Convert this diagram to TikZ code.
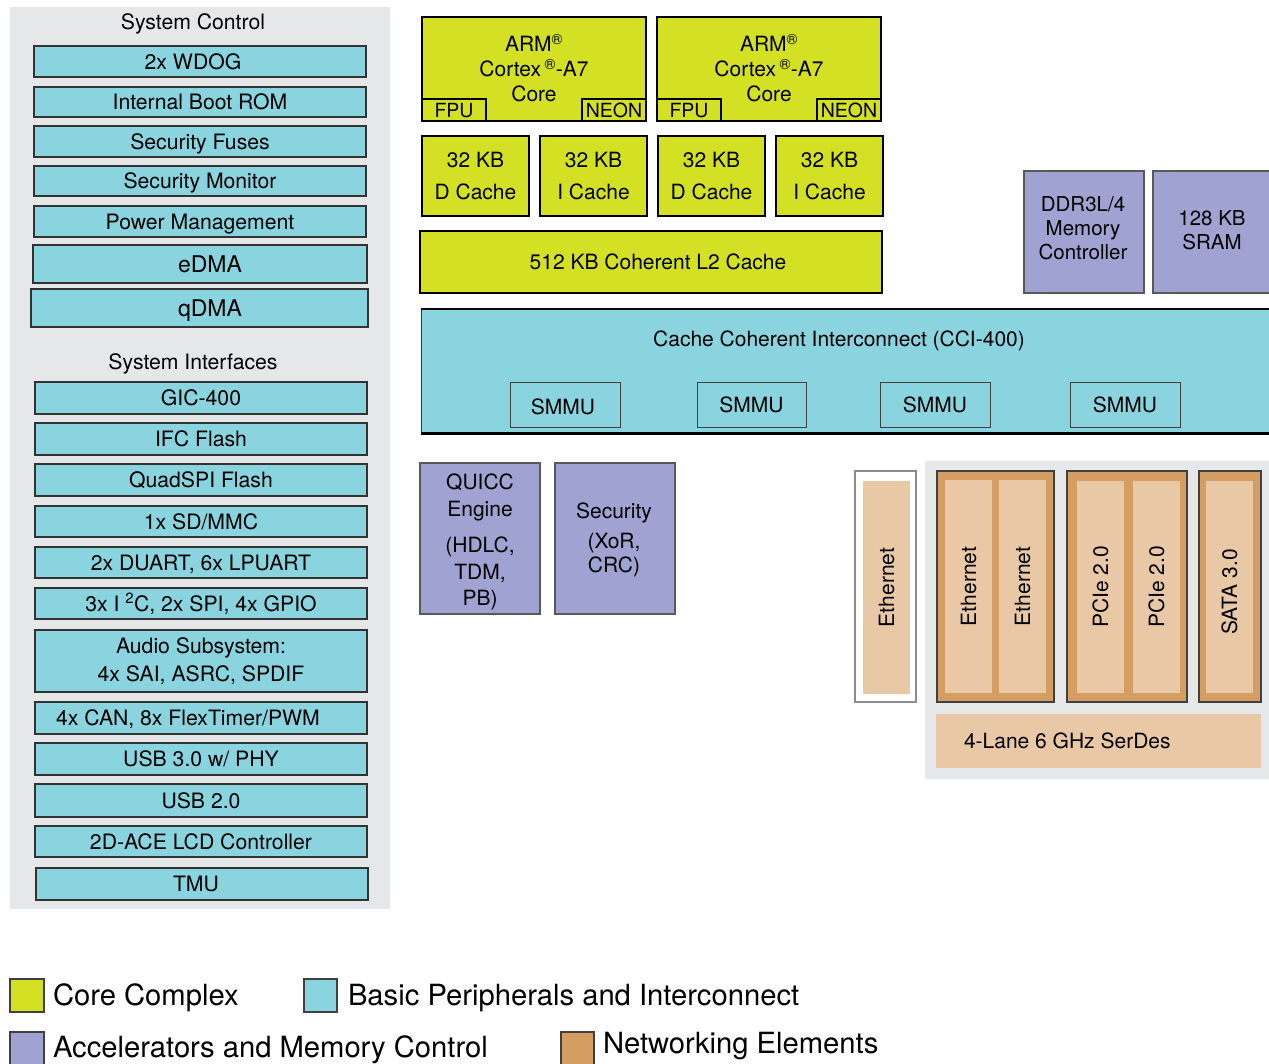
\documentclass[tikz,border=0pt]{standalone}
\usepackage{fontspec}
\setmainfont{TeX Gyre Heros}
\definecolor{cyc}{RGB}{137,212,223}
\definecolor{ylc}{RGB}{212,224,36}
\definecolor{puc}{RGB}{160,162,210}
\definecolor{orc}{RGB}{212,158,98}
\definecolor{tnc}{RGB}{232,200,165}
\definecolor{bgc}{RGB}{230,231,232}
\newcommand{\fsz}[2]{\fontsize{#1}{#2}\selectfont}
\newcommand{\blk}[8][]{\node[#2, minimum width={(#5-#3)*1pt}, minimum height={(#6-#4)*1pt}, #1] (#7) at ({(#3+#5)/2},{(#4+#6)/2}) {#8};}
\begin{document}
\begin{tikzpicture}[x=1pt,y=-1pt,
 every node/.style={inner sep=0pt,outer sep=0pt,align=center,font=\fsz{21}{25}},
 bgb/.style={fill=bgc,draw=none},
 cyb/.style={fill=cyc,draw=black!80,line width=1.3pt},
 ylb/.style={fill=ylc,draw=black,line width=2pt},
 pub/.style={fill=puc,draw=black!65,line width=1.2pt},
 orb/.style={fill=orc,draw=black!75,line width=1.2pt},
 tnb/.style={fill=tnc,draw=none},
 whb/.style={fill=white,draw=black!45,line width=1.2pt},
 smb/.style={fill=cyc,draw=black!75,line width=1pt},
 swb/.style={draw=black!75,line width=1.5pt},
 capx/.style={text height=15pt,text depth=0pt},
 lft/.style={font=\fsz{21.2}{25},text height=15.2pt,text depth=0pt},
 bigx/.style={font=\fsz{23}{27},text height=16.5pt,text depth=0pt},
 rotx/.style={rotate=90,text height=15pt,text depth=0pt},
 legx/.style={anchor=west,font=\fsz{29.2}{33},text height=21pt,text depth=0pt}]
\useasboundingbox (0,0) rectangle (1269,1063);

% ---------- left panel ----------
\blk{bgb}{10}{7}{390}{909}{lpanel}{}
\node[lft] (sctitle) at (193,22) {System Control};
\blk[lft]{cyb}{34}{46}{366}{77}{wdog}{}
\node[lft] (wdogt) at (193,61.5) {2x WDOG};
\blk[lft]{cyb}{34}{87}{366}{117}{boot}{Internal Boot ROM}
\blk[lft]{cyb}{34}{126}{366}{157}{fuse}{Security Fuses}
\blk[lft]{cyb}{34}{166}{366}{196}{smon}{Security Monitor}
\blk[lft]{cyb}{34}{206}{366}{237}{pwr}{Power Management}
\blk{cyb}{33}{245}{367}{283}{edma}{}
\node[bigx] (edmat) at (210,264) {eDMA};
\blk{cyb}{31}{289}{368}{327}{qdma}{}
\node[bigx] (qdmat) at (210,308) {qDMA};
\node[lft] (sititle) at (193,362) {System Interfaces};
\blk[lft]{cyb}{35}{382}{367}{414}{gic}{GIC-400}
\blk[lft]{cyb}{35}{423}{367}{455}{ifc}{IFC Flash}
\blk[lft]{cyb}{35}{464}{367}{496}{qspi}{QuadSPI Flash}
\blk[lft]{cyb}{35}{506}{367}{537}{sdmmc}{1x SD/MMC}
\blk[lft]{cyb}{35}{547}{367}{578}{uart}{2x DUART, 6x LPUART}
\blk[lft]{cyb}{35}{588}{367}{619}{i2c}{3x I \textsuperscript{2}C, 2x SPI, 4x GPIO}
\blk[font=\fsz{21.2}{28}]{cyb}{35}{630}{367}{692}{audio}{Audio Subsystem:\\4x SAI, ASRC, SPDIF}
\blk{cyb}{35}{702}{367}{734}{can}{}
\node[lft] (cantext) at (188,718) {4x CAN, 8x FlexTimer/PWM};
\blk[lft]{cyb}{35}{743}{367}{775}{usb3}{USB 3.0 w/ PHY}
\blk[lft]{cyb}{35}{784}{367}{817}{usb2}{USB 2.0}
\blk[lft]{cyb}{35}{826}{367}{857}{lcd}{2D-ACE LCD Controller}
\blk{cyb}{36}{868}{368}{900}{tmu}{}
\node[lft] (tmut) at (196,884) {TMU};

% ---------- core complex ----------
\blk{ylb}{422}{17}{646}{121}{core1}{}
\blk{ylb}{657}{17}{881}{121}{core2}{}
\node (core1text) at (534,68) {ARM\textsuperscript{®}\\Cortex\,\textsuperscript{®}-A7\\Core};
\node (core2text) at (769,68) {ARM\textsuperscript{®}\\Cortex\,\textsuperscript{®}-A7\\Core};
\blk[font=\fsz{19.5}{22},text height=14pt,text depth=0pt]{ylb}{422}{99}{486}{121}{fpu1}{FPU}
\blk[font=\fsz{19.5}{22},text height=14pt,text depth=0pt]{ylb}{582}{99}{646}{121}{neon1}{NEON}
\blk[font=\fsz{19.5}{22},text height=14pt,text depth=0pt]{ylb}{657}{99}{721}{121}{fpu2}{FPU}
\blk[font=\fsz{19.5}{22},text height=14pt,text depth=0pt]{ylb}{817}{99}{881}{121}{neon2}{NEON}
\blk[font=\fsz{21}{32}]{ylb}{422}{136}{529}{216}{dc1}{32 KB\\D Cache}
\blk[font=\fsz{21}{32}]{ylb}{540}{136}{647}{216}{ic1}{32 KB\\I Cache}
\blk[font=\fsz{21}{32}]{ylb}{658}{136}{765}{216}{dc2}{32 KB\\D Cache}
\blk[font=\fsz{21}{32}]{ylb}{776}{136}{883}{216}{ic2}{32 KB\\I Cache}
\blk{ylb}{420}{231}{882}{293}{l2}{}
\node[capx] (l2t) at (658,262) {512 KB Coherent L2 Cache};

% ---------- memory ----------
\blk{pub}{1024}{171}{1144}{293}{ddr}{}
\node[font=\fsz{20.5}{24}] (ddrtext) at (1083,228) {DDR3L/4\\Memory\\Controller};
\blk{pub}{1153}{171}{1274}{293}{sram}{}
\node[font=\fsz{20.5}{24}] (sramtext) at (1212,230) {128 KB\\SRAM};

% ---------- CCI ----------
\blk{fill=cyc,draw=black!80,line width=1pt}{421}{309}{1280}{433}{cci}{}
\draw[line width=2.5pt] (cci.north west) -- (cci.north east);
\draw[line width=3pt] (cci.south west) -- (cci.south east);
\node[capx] (ccititle) at (839,339) {Cache Coherent Interconnect (CCI-400)};
\blk{smb}{510}{382}{620}{427}{smmu1}{}
\node[capx] (smmu1t) at (563,407) {SMMU};
\blk[capx]{smb}{697}{382}{806}{427}{smmu2}{SMMU}
\blk[capx]{smb}{880}{382}{990}{427}{smmu3}{SMMU}
\blk[capx]{smb}{1070}{382}{1180}{427}{smmu4}{SMMU}

% ---------- accelerators ----------
\blk{pub}{420}{463}{540}{614}{quicc}{}
\node[font=\fsz{21}{26.5}] (quicctext) at (480,542) {QUICC\\Engine\\[10pt](HDLC,\\TDM,\\PB)};
\blk{pub}{555}{463}{675}{614}{sec}{}
\node[font=\fsz{21}{27}] (sectext) at (614,540) {Security\\[3pt](XoR,\\[-3pt]CRC)};

% ---------- networking ----------
\blk{bgb}{925}{461}{1275}{779}{netbg}{}
\blk{whb}{855}{471}{916}{702}{eth0o}{}
\blk{tnb}{863}{481}{910}{694}{eth0}{}
\node[rotx] (eth0t) at (eth0.center) {Ethernet};
\blk{orb}{937}{471}{1054}{702}{ethg}{}
\blk{tnb}{945}{480}{992}{693}{eth1}{}
\blk{tnb}{999}{480}{1046}{693}{eth2}{}
\node[rotx] (eth1t) at (eth1.center) {Ethernet};
\node[rotx] (eth2t) at (eth2.center) {Ethernet};
\blk{orb}{1067}{471}{1187}{702}{pcieg}{}
\blk{tnb}{1077}{481}{1124}{693}{pcie1}{}
\blk{tnb}{1133}{481}{1180}{693}{pcie2}{}
\node[rotx] (pcie1t) at (pcie1.center) {PCIe 2.0};
\node[rotx] (pcie2t) at (pcie2.center) {PCIe 2.0};
\blk{orb}{1199}{471}{1261}{702}{satag}{}
\blk{tnb}{1206}{481}{1253}{693}{sata}{}
\node[rotx] (satat) at ([yshift=-5pt]sata.center) {SATA 3.0};
\blk{tnb}{936}{714}{1261}{768}{serdes}{}
\node[capx,anchor=west] (serdest) at (964,741) {4-Lane 6 GHz SerDes};

% ---------- legend ----------
\blk{swb,fill=ylc}{10}{979}{44}{1012}{lgy}{}
\node[legx] (lgyt) at (53,995) {Core Complex};
\blk{swb,fill=cyc}{304}{979}{337}{1012}{lgc}{}
\node[legx] (lgct) at (348,995) {Basic Peripherals and Interconnect};
\blk{swb,fill=puc}{10}{1032}{44}{1066}{lgp}{}
\node[legx] (lgpt) at (53,1047) {Accelerators and Memory Control};
\blk{swb,fill=orc}{561}{1032}{594}{1066}{lgo}{}
\node[legx] (lgot) at (603,1043) {Networking Elements};
\end{tikzpicture}
\end{document}
